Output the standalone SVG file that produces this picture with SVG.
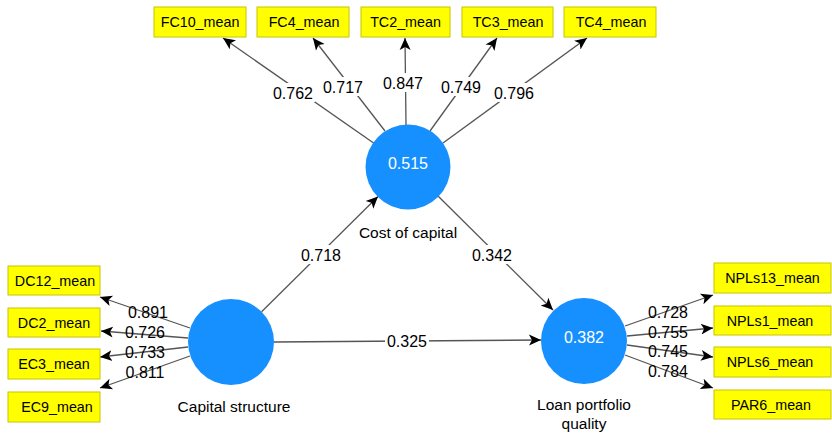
<svg xmlns="http://www.w3.org/2000/svg" width="832" height="433" viewBox="0 0 832 433">
<style>
.box{fill:#ffff00;stroke:#c8c400;stroke-width:1}
.bt{font-family:"Liberation Sans",Arial,sans-serif;font-size:14.3px;fill:#000;text-anchor:middle}
.lv{fill:#1690ff}
.lt{font-family:"Liberation Sans",Arial,sans-serif;font-size:15.5px;fill:#000;text-anchor:middle}
.r2{font-family:"Liberation Sans",Arial,sans-serif;font-size:16px;fill:#fff;text-anchor:middle}
.ln{stroke:#555;stroke-width:1.3;fill:none;marker-end:url(#ah)}
.num{font-family:"Liberation Sans",Arial,sans-serif;font-size:16px;fill:#000;text-anchor:middle}
.bg{fill:#fff}
</style>
<defs>
<marker id="ah" markerUnits="userSpaceOnUse" markerWidth="14" markerHeight="14" refX="12" refY="7" orient="auto">
<path d="M0,1.5 L12,7 L0,12.5 L3,7 Z" fill="#000"/>
</marker>
</defs>
<g id="connectors">
<line class="ln" x1="373.6" y1="143" x2="223" y2="38"/>
<line class="ln" x1="385" y1="131" x2="313" y2="38"/>
<line class="ln" x1="406" y1="125" x2="405" y2="38"/>
<line class="ln" x1="430" y1="131" x2="497" y2="38"/>
<line class="ln" x1="443" y1="143" x2="587" y2="38"/>
<line class="ln" x1="190" y1="328" x2="100" y2="297"/>
<line class="ln" x1="188" y1="338" x2="101" y2="331"/>
<line class="ln" x1="188" y1="347" x2="100" y2="357"/>
<line class="ln" x1="190" y1="356" x2="100" y2="388"/>
<line class="ln" x1="625" y1="326" x2="713" y2="295"/>
<line class="ln" x1="627" y1="336" x2="713" y2="328"/>
<line class="ln" x1="627" y1="345" x2="713" y2="357"/>
<line class="ln" x1="625" y1="355" x2="713" y2="388"/>
<line class="ln" x1="261.6" y1="311.8" x2="378" y2="196.5"/>
<line class="ln" x1="438" y1="196" x2="553" y2="310"/>
<line class="ln" x1="274" y1="342" x2="541" y2="340"/>
<g id="edge-labels">
<rect class="bg" x="271" y="83" width="44" height="19"/><text class="num" x="293" y="99">0.762</text>
<rect class="bg" x="321" y="77" width="44" height="19"/><text class="num" x="343" y="93">0.717</text>
<rect class="bg" x="381" y="73" width="44" height="19"/><text class="num" x="403" y="89">0.847</text>
<rect class="bg" x="439" y="77" width="44" height="19"/><text class="num" x="461" y="93">0.749</text>
<rect class="bg" x="492" y="83" width="44" height="19"/><text class="num" x="514" y="99">0.796</text>
<rect class="bg" x="299" y="245" width="44" height="19"/><text class="num" x="321" y="261">0.718</text>
<rect class="bg" x="470" y="245" width="44" height="19"/><text class="num" x="492" y="261">0.342</text>
<rect class="bg" x="385" y="333" width="44" height="16"/><text class="num" x="407" y="347">0.325</text>
<text class="num" x="148" y="318">0.891</text>
<text class="num" x="145" y="338">0.726</text>
<text class="num" x="145" y="358">0.733</text>
<text class="num" x="145" y="378">0.811</text>
<text class="num" x="668" y="318">0.728</text>
<text class="num" x="668" y="338">0.755</text>
<text class="num" x="668" y="357">0.745</text>
<text class="num" x="668" y="377">0.784</text>
</g>
</g>
<g id="FC10_mean"><rect class="box" x="154" y="7" width="92" height="30"/><text class="bt" x="200" y="27">FC10_mean</text></g>
<g id="FC4_mean"><rect class="box" x="257" y="7" width="92" height="30"/><text class="bt" x="304" y="27">FC4_mean</text></g>
<g id="TC2_mean"><rect class="box" x="361" y="7" width="89" height="30"/><text class="bt" x="405.5" y="27">TC2_mean</text></g>
<g id="TC3_mean"><rect class="box" x="462" y="7" width="91" height="30"/><text class="bt" x="508" y="27">TC3_mean</text></g>
<g id="TC4_mean"><rect class="box" x="564" y="7" width="92" height="30"/><text class="bt" x="611" y="27">TC4_mean</text></g>
<g id="DC12_mean"><rect class="box" x="8" y="266" width="92" height="29"/><text class="bt" x="55" y="285.5">DC12_mean</text></g>
<g id="DC2_mean"><rect class="box" x="8" y="308" width="92" height="29"/><text class="bt" x="54" y="327.5">DC2_mean</text></g>
<g id="EC3_mean"><rect class="box" x="8" y="349" width="92" height="30"/><text class="bt" x="54" y="369">EC3_mean</text></g>
<g id="EC9_mean"><rect class="box" x="8" y="392" width="92" height="30"/><text class="bt" x="57" y="412">EC9_mean</text></g>
<g id="NPLs13_mean"><rect class="box" x="714" y="263" width="117" height="30"/><text class="bt" x="772.5" y="283">NPLs13_mean</text></g>
<g id="NPLs1_mean"><rect class="box" x="714" y="306" width="117" height="29"/><text class="bt" x="770" y="325.5">NPLs1_mean</text></g>
<g id="NPLs6_mean"><rect class="box" x="714" y="347" width="117" height="30"/><text class="bt" x="770" y="367">NPLs6_mean</text></g>
<g id="PAR6_mean"><rect class="box" x="714" y="390" width="117" height="29"/><text class="bt" x="771" y="409.5">PAR6_mean</text></g>
<g id="cost_of_capital"><circle class="lv" cx="408" cy="167" r="42.5"/><text class="r2" x="408" y="169">0.515</text><text class="lt" x="408" y="238">Cost of capital</text></g>
<g id="capital_structure"><circle class="lv" cx="231" cy="342" r="43"/><text class="lt" x="234" y="412">Capital structure</text></g>
<g id="loan_portfolio_quality"><circle class="lv" cx="584" cy="341" r="43"/><text class="r2" x="584" y="343">0.382</text><text class="lt" x="584" y="410">Loan portfolio</text><text class="lt" x="584" y="429">quality</text></g>
</svg>
